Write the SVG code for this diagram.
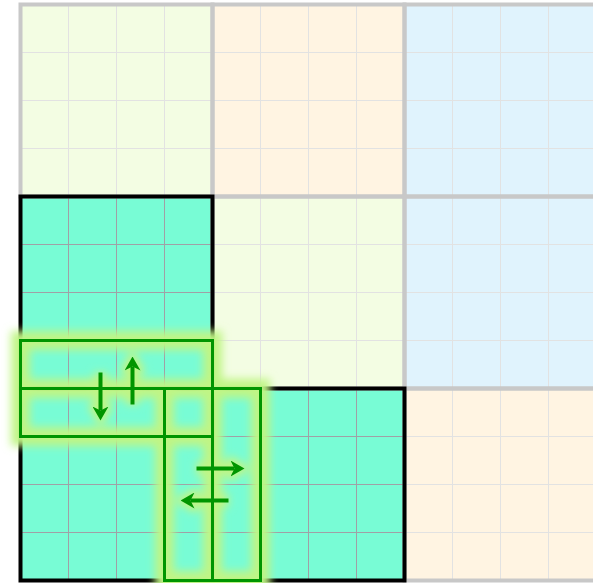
<svg xmlns="http://www.w3.org/2000/svg" width="593" height="583" viewBox="0 0 593 583">
<style>
.y{fill:#f3fde3}.o{fill:#fff4e2}.b{fill:#e0f3fd}.t{fill:#78fcd5}
.gl{stroke:#e2e2e2;stroke-width:1;fill:none}
.gd{stroke:#a0a0a6;stroke-width:1;fill:none}
.bg{stroke:#c8c8c8;stroke-width:4;fill:none}
.bk{stroke:#000;stroke-width:4;fill:none}
.hl{stroke:#009500;stroke-width:3;fill:none}
.ar{stroke:#009500;stroke-width:4;fill:none}
.gw{stroke:#c0f585;fill:none}
</style>
<defs>
<marker id="ah" viewBox="0 0 14 16" markerUnits="userSpaceOnUse" markerWidth="14" markerHeight="16" refX="4" refY="8" orient="auto">
<path d="M0,0 L14,8 L0,16 L4,8 Z" fill="#009500"/>
</marker>
<marker id="ahg" viewBox="0 0 14 16" markerUnits="userSpaceOnUse" markerWidth="14" markerHeight="16" refX="4" refY="8" orient="auto" overflow="visible">
<path d="M0,0 L14,8 L0,16 L4,8 Z" fill="#c0f585" stroke="#c0f585" stroke-width="8" stroke-linejoin="round"/>
</marker>
<filter id="blur" filterUnits="userSpaceOnUse" x="-50" y="280" width="400" height="340">
<feGaussianBlur stdDeviation="4.5"/>
</filter>
<g id="cellsL">
<path class="gl" d="M48,0V192M96,0V192M144,0V192M0,48H192M0,96H192M0,144H192"/>
</g>
<g id="cellsD">
<path class="gd" d="M48,0V192M96,0V192M144,0V192M0,48H192M0,96H192M0,144H192"/>
</g>
</defs>
<g transform="translate(20.5,4.5)">
<g id="block-0-0"><rect class="y" x="0" y="0" width="192" height="192"/><use href="#cellsL"/></g>
<g id="block-0-1"><rect class="o" x="192" y="0" width="192" height="192"/><use href="#cellsL" x="192"/></g>
<g id="block-0-2"><rect class="b" x="384" y="0" width="192" height="192"/><use href="#cellsL" x="384"/></g>
<g id="block-1-0"><rect class="t" x="0" y="192" width="192" height="192"/><use href="#cellsD" y="192"/></g>
<g id="block-1-1"><rect class="y" x="192" y="192" width="192" height="192"/><use href="#cellsL" x="192" y="192"/></g>
<g id="block-1-2"><rect class="b" x="384" y="192" width="192" height="192"/><use href="#cellsL" x="384" y="192"/></g>
<g id="block-2-0"><rect class="t" x="0" y="384" width="192" height="192"/><use href="#cellsD" y="384"/></g>
<g id="block-2-1"><rect class="t" x="192" y="384" width="192" height="192"/><use href="#cellsD" x="192" y="384"/></g>
<g id="block-2-2"><rect class="o" x="384" y="384" width="192" height="192"/><use href="#cellsL" x="384" y="384"/></g>
<g id="borders">
<rect class="bg" x="0" y="0" width="192" height="192"/>
<rect class="bg" x="192" y="0" width="192" height="192"/>
<rect class="bg" x="384" y="0" width="192" height="192"/>
<rect class="bg" x="192" y="192" width="192" height="192"/>
<rect class="bg" x="384" y="192" width="192" height="192"/>
<rect class="bg" x="384" y="384" width="192" height="192"/>
<rect class="bk" x="0" y="192" width="192" height="192"/>
<rect class="bk" x="0" y="384" width="192" height="192"/>
<rect class="bk" x="192" y="384" width="192" height="192"/>
</g>
<g id="glow" filter="url(#blur)">
<g class="gw" stroke-width="19">
<rect x="0" y="336" width="192" height="48"/>
<rect x="0" y="384" width="192" height="48"/>
<rect x="144" y="384" width="48" height="192"/>
<rect x="192" y="384" width="48" height="192"/>
</g>
<g class="gw" stroke-width="14">
<line x1="80" y1="368" x2="80" y2="406" marker-end="url(#ahg)"/>
<line x1="112" y1="400" x2="112" y2="362" marker-end="url(#ahg)"/>
<line x1="176" y1="464" x2="214" y2="464" marker-end="url(#ahg)"/>
<line x1="208" y1="496" x2="170" y2="496" marker-end="url(#ahg)"/>
</g>
</g>
<g id="highlights">
<rect id="row-a" class="hl" x="0" y="336" width="192" height="48"/>
<rect id="row-b" class="hl" x="0" y="384" width="192" height="48"/>
<rect id="col-a" class="hl" x="144" y="384" width="48" height="192"/>
<rect id="col-b" class="hl" x="192" y="384" width="48" height="192"/>
</g>
<g id="connectors">
<line class="ar" x1="80" y1="368" x2="80" y2="406" marker-end="url(#ah)"/>
<line class="ar" x1="112" y1="400" x2="112" y2="362" marker-end="url(#ah)"/>
<line class="ar" x1="176" y1="464" x2="214" y2="464" marker-end="url(#ah)"/>
<line class="ar" x1="208" y1="496" x2="170" y2="496" marker-end="url(#ah)"/>
</g>
</g>
</svg>
